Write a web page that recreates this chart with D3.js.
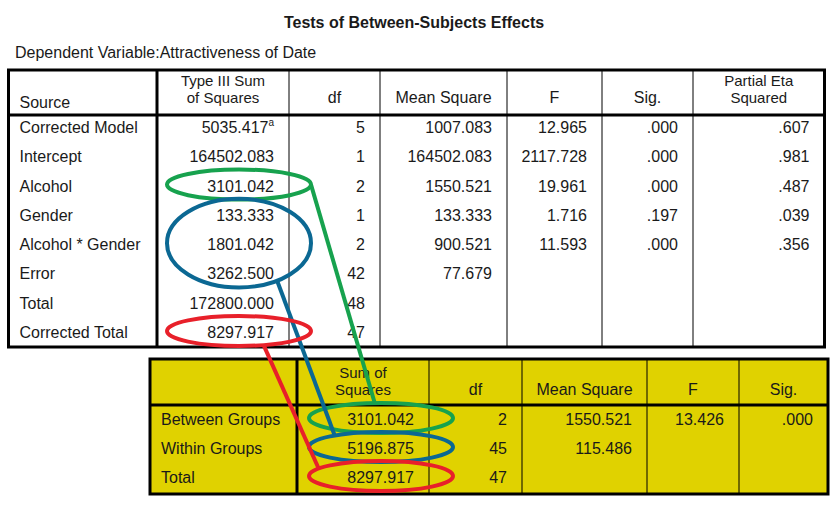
<!DOCTYPE html>
<html>
<head>
<meta charset="utf-8">
<script src="https://cdn.jsdelivr.net/npm/d3@7"></script>
<style>
  body { margin: 0; background: #fff; }
  text { font-family: "Liberation Sans", Arial, sans-serif; fill: #1a1a1a; }
</style>
</head>
<body>
<script>
var w = 840,
  h = 507;

// Tests of Between-Subjects Effects
var sources = ["Corrected Model", "Intercept", "Alcohol", "Gender", "Alcohol * Gender", "Error", "Total", "Corrected Total"];
var sumSq = ["5035.417", "164502.083", "3101.042", "133.333", "1801.042", "3262.500", "172800.000", "8297.917"];
var sumSqNote = ["a", "", "", "", "", "", "", ""];
var dfs = ["5", "1", "2", "1", "2", "42", "48", "47"];
var meanSq = ["1007.083", "164502.083", "1550.521", "133.333", "900.521", "77.679", "", ""];
var fVals = ["12.965", "2117.728", "19.961", "1.716", "11.593", "", "", ""];
var sigs = [".000", ".000", ".000", ".197", ".000", "", "", ""];
var etaSq = [".607", ".981", ".487", ".039", ".356", "", "", ""];
var topHeaders = [["Source"], ["Type III Sum", "of Squares"], ["df"], ["Mean Square"], ["F"], ["Sig."], ["Partial Eta", "Squared"]];

// one-way ANOVA
var groups = ["Between Groups", "Within Groups", "Total"];
var groupSumSq = ["3101.042", "5196.875", "8297.917"];
var groupDf = ["2", "45", "47"];
var groupMeanSq = ["1550.521", "115.486", ""];
var groupF = ["13.426", "", ""];
var groupSig = [".000", "", ""];
var bottomHeaders = [[""], ["Sum of", "Squares"], ["df"], ["Mean Square"], ["F"], ["Sig."]];

// highlighted cells: rows in top table -> row in bottom table
var links = [
  { top: [2, 2], bottom: 0, color: "#17a24e", a0: 0, a1: -95 },
  { top: [3, 5], bottom: 1, color: "#0b6893", a0: 58, a1: -130 },
  { top: [7, 7], bottom: 2, color: "#e8202a", a0: 70, a1: -150 }
];

var svg = d3.select("body").append("svg")
  .attr("width", w)
  .attr("height", h);

svg.append("text")
  .attr("x", 414)
  .attr("y", 28)
  .attr("text-anchor", "middle")
  .style("font-size", "16px")
  .style("font-weight", "bold")
  .text("Tests of Between-Subjects Effects");

svg.append("text")
  .attr("x", 15)
  .attr("y", 58)
  .style("font-size", "16px")
  .text("Dependent Variable:Attractiveness of Date");

function drawTable(g, cfg) {
  var cols = cfg.cols; // column edges
  var rowY = d3.scaleLinear().domain([0, cfg.rows.length - 1]).range(cfg.rowRange);

  g.append("rect")
    .attr("x", cols[0]).attr("y", cfg.top)
    .attr("width", cols[cols.length - 1] - cols[0])
    .attr("height", cfg.bottom - cfg.top)
    .attr("fill", cfg.fill);

  // thin column lines
  g.selectAll(".vline")
    .data(cols.slice(2, -1))
    .enter().append("line")
    .attr("x1", d => d).attr("x2", d => d)
    .attr("y1", cfg.top).attr("y2", cfg.bottom)
    .attr("stroke", "#000").attr("stroke-width", 1);

  // thick lines
  g.append("line")
    .attr("x1", cols[1]).attr("x2", cols[1])
    .attr("y1", cfg.top).attr("y2", cfg.bottom)
    .attr("stroke", "#000").attr("stroke-width", 3);
  g.append("line")
    .attr("x1", cols[0]).attr("x2", cols[cols.length - 1])
    .attr("y1", cfg.headBottom).attr("y2", cfg.headBottom)
    .attr("stroke", "#000").attr("stroke-width", 3);
  g.append("rect")
    .attr("x", cols[0]).attr("y", cfg.top)
    .attr("width", cols[cols.length - 1] - cols[0])
    .attr("height", cfg.bottom - cfg.top)
    .attr("fill", "none")
    .attr("stroke", "#000").attr("stroke-width", 3);

  // headers
  cfg.headers.forEach((lines, i) => {
    var first = i === 0;
    var x = first ? cols[0] + 11 : (cols[i] + cols[i + 1]) / 2;
    var two = lines.length > 1;
    var t = g.append("text")
      .attr("x", x)
      .attr("y", first ? cfg.headBase + 5 : cfg.headBase - (lines.length - 1) * 17)
      .attr("text-anchor", first ? "start" : "middle")
      .style("font-size", two ? "15px" : "16px");
    lines.forEach((l, k) => {
      t.append("tspan")
        .attr("x", x)
        .attr("dy", k === 0 ? 0 : 17)
        .text(l);
    });
  });

  // row labels
  g.selectAll(".rowlabel")
    .data(cfg.rows)
    .enter().append("text")
    .attr("x", cols[0] + 11)
    .attr("y", (d, i) => rowY(i))
    .style("font-size", "16px")
    .text(d => d);

  // values
  cfg.values.forEach((vals, c) => {
    var right = cols[c + 2] - 15;
    g.selectAll(".v" + c)
      .data(vals)
      .enter().append("text")
      .attr("x", right)
      .attr("y", (d, i) => rowY(i))
      .attr("text-anchor", "end")
      .style("font-size", "16px")
      .each(function (d, i) {
        var t = d3.select(this);
        t.append("tspan").text(d);
        var note = cfg.notes && c === 0 ? cfg.notes[i] : "";
        if (note) {
          t.append("tspan")
            .attr("dy", -7)
            .style("font-size", "10px")
            .text(note);
        }
      });
  });

  return rowY;
}

var topCols = [8.5, 157, 289, 380, 507, 602, 693, 824.5];
var topY = drawTable(svg.append("g"), {
  cols: topCols,
  top: 70, bottom: 347, headBottom: 115, headBase: 103,
  rowRange: [133, 338],
  fill: "#fff",
  headers: topHeaders,
  rows: sources,
  notes: sumSqNote,
  values: [sumSq, dfs, meanSq, fVals, sigs, etaSq]
});

var botCols = [150, 297, 429, 522, 647, 739, 828];
var botY = drawTable(svg.append("g"), {
  cols: botCols,
  top: 359, bottom: 494, headBottom: 405, headBase: 395,
  rowRange: [425, 483],
  fill: "#e0d200",
  headers: bottomHeaders,
  rows: groups,
  values: [groupSumSq, groupDf, groupMeanSq, groupF, groupSig]
});

// annotations: ellipses round the matching sums of squares, joined by lines
function ellipse(colRight, y0, y1) {
  return { cx: colRight - 50, cy: (y0 + y1) / 2 - 7, rx: 72, ry: (y1 - y0) / 2 + 15 };
}
function onEllipse(e, deg) {
  var a = deg * Math.PI / 180;
  return [e.cx + e.rx * Math.cos(a), e.cy + e.ry * Math.sin(a)];
}

var ann = svg.append("g");
links.forEach(l => {
  var e0 = ellipse(topCols[2], topY(l.top[0]), topY(l.top[1]));
  var e1 = ellipse(botCols[2] + 2, botY(l.bottom), botY(l.bottom));
  var p0 = onEllipse(e0, l.a0),
    p1 = onEllipse(e1, l.a1);
  ann.append("line")
    .attr("x1", p0[0]).attr("y1", p0[1])
    .attr("x2", p1[0]).attr("y2", p1[1])
    .attr("stroke", l.color).attr("stroke-width", 4);
  [e0, e1].forEach(e => {
    ann.append("ellipse")
      .attr("cx", e.cx).attr("cy", e.cy)
      .attr("rx", e.rx).attr("ry", e.ry)
      .attr("fill", "none")
      .attr("stroke", l.color).attr("stroke-width", 4);
  });
});
</script>
</body>
</html>
